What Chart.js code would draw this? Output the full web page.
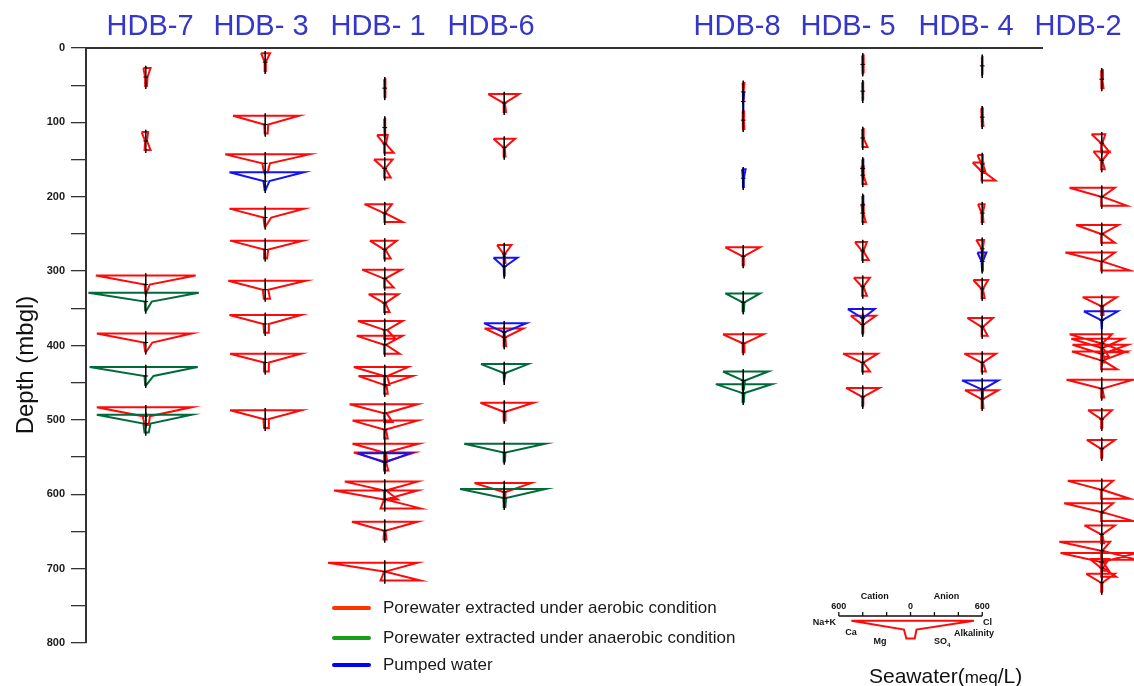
<!DOCTYPE html>
<html>
<head>
<meta charset="utf-8">
<script src="https://cdn.jsdelivr.net/npm/chart.js@4.4.0/dist/chart.umd.min.js"></script>
<style>
  html, body { margin: 0; padding: 0; background: #fff; }
  #wrap { width: 1134px; height: 686px; }
</style>
</head>
<body>
<div id="wrap"><canvas id="stiff" width="1134" height="686"></canvas></div>
<script>
// Stiff diagrams down each borehole, values in meq/L
// row: [depth (m, top row), type, Na+K, Ca, Mg, Cl, Alkalinity, SO4]
// type: A = porewater aerobic, N = porewater anaerobic, P = pumped water
var boreholes = ['HDB-7', 'HDB- 3', 'HDB- 1', 'HDB-6', 'HDB-8', 'HDB- 5', 'HDB- 4', 'HDB-2'];
var boreholeCentre = [500, 1500, 2500, 3500, 5500, 6500, 7500, 8500];

var hdb7 = [
  [27, 'A', 20, 5, 5, 40, 15, 10],
  [113, 'A', 35, 5, 10, 20, 10, 40],
  [306, 'A', 418, 8, 5, 418, 33, 5],
  [329, 'N', 480, 8, 5, 444, 50, 5],
  [384, 'A', 410, 15, 5, 385, 55, 5],
  [429, 'N', 470, 10, 5, 435, 65, 5],
  [483, 'A', 410, 25, 10, 385, 35, 25],
  [493, 'N', 410, 20, 10, 385, 40, 25]
];
var hdb3 = [
  [7, 'A', 35, 5, 5, 40, 5, 5],
  [91, 'A', 270, 8, 5, 285, 25, 20],
  [143, 'A', 335, 25, 10, 370, 40, 20],
  [167, 'P', 300, 15, 5, 325, 35, 2],
  [216, 'A', 300, 15, 5, 325, 50, 2],
  [259, 'A', 295, 10, 10, 315, 25, 15],
  [313, 'A', 310, 20, 12, 340, 25, 40],
  [359, 'A', 300, 15, 10, 300, 30, 30],
  [411, 'A', 295, 10, 10, 300, 30, 25],
  [487, 'A', 295, 15, 10, 305, 30, 25]
];
var hdb1 = [
  [42, 'A', 5, 2, 2, 8, 3, 5],
  [95, 'A', 5, 2, 2, 5, 3, 5],
  [117, 'A', 65, 5, 5, 25, 10, 75],
  [150, 'A', 90, 5, 5, 65, 5, 50],
  [210, 'A', 170, 5, 2, 60, 3, 150],
  [259, 'A', 125, 5, 5, 100, 5, 50],
  [298, 'A', 190, 5, 5, 140, 5, 75],
  [331, 'A', 135, 5, 5, 115, 5, 40],
  [367, 'A', 225, 5, 5, 150, 20, 90],
  [387, 'A', 235, 5, 5, 150, 10, 125],
  [429, 'A', 260, 5, 5, 195, 20, 40],
  [441, 'A', 220, 5, 5, 235, 15, 25],
  [479, 'A', 295, 5, 5, 275, 15, 65],
  [501, 'A', 270, 5, 5, 275, 10, 25],
  [532, 'A', 270, 5, 5, 285, 10, 20],
  [544, 'A', 260, 5, 5, 250, 10, 30],
  [545, 'P', 225, 5, 2, 210, 5, 2],
  [583, 'A', 335, 5, 5, 275, 10, 110],
  [595, 'A', 425, 5, 35, 275, 5, 300],
  [637, 'A', 275, 5, 10, 275, 5, 15],
  [692, 'A', 475, 5, 35, 275, 5, 300]
];
var hdb6 = [
  [62, 'A', 135, 5, 5, 125, 5, 15],
  [122, 'A', 90, 5, 5, 90, 5, 10],
  [265, 'A', 60, 5, 5, 60, 5, 10],
  [282, 'P', 90, 5, 2, 110, 5, 2],
  [370, 'P', 170, 5, 2, 185, 5, 2],
  [377, 'A', 165, 5, 5, 160, 10, 15],
  [425, 'N', 195, 5, 2, 200, 10, 2],
  [477, 'A', 200, 5, 5, 245, 10, 10],
  [532, 'N', 335, 5, 5, 345, 10, 5],
  [585, 'A', 250, 5, 5, 225, 10, 10],
  [593, 'N', 370, 5, 5, 345, 15, 10]
];
var hdb8 = [
  [47, 'A', 5, 2, 2, 10, 5, 5],
  [60, 'P', 3, 2, 2, 8, 3, 3],
  [85, 'A', 5, 3, 3, 8, 5, 10],
  [163, 'P', 10, 3, 2, 20, 5, 5],
  [268, 'A', 150, 5, 5, 140, 5, 5],
  [330, 'N', 150, 5, 5, 140, 10, 5],
  [385, 'A', 170, 5, 5, 170, 10, 10],
  [435, 'N', 170, 5, 5, 210, 15, 5],
  [452, 'N', 230, 5, 5, 240, 10, 5]
];
var hdb5 = [
  [10, 'A', 5, 3, 2, 10, 5, 10],
  [46, 'A', 5, 3, 2, 5, 3, 5],
  [109, 'A', 5, 3, 3, 8, 5, 40],
  [150, 'P', 3, 2, 2, 5, 3, 2],
  [159, 'A', 10, 3, 3, 8, 5, 30],
  [199, 'P', 3, 2, 2, 5, 3, 2],
  [210, 'A', 10, 3, 3, 8, 5, 25],
  [261, 'A', 65, 5, 5, 35, 5, 50],
  [309, 'A', 75, 5, 5, 60, 5, 35],
  [351, 'P', 125, 5, 2, 100, 5, 2],
  [360, 'A', 100, 5, 5, 110, 5, 10],
  [411, 'A', 165, 5, 5, 125, 5, 60],
  [457, 'A', 140, 5, 5, 140, 5, 10]
];
var hdb4 = [
  [12, 'A', 3, 2, 2, 3, 2, 3],
  [81, 'A', 8, 3, 3, 5, 5, 10],
  [144, 'A', 40, 5, 5, 5, 5, 30],
  [154, 'A', 80, 5, 5, 10, 10, 110],
  [210, 'A', 35, 5, 5, 20, 5, 10],
  [258, 'A', 50, 5, 5, 15, 5, 15],
  [275, 'P', 40, 5, 2, 35, 5, 2],
  [312, 'A', 75, 5, 5, 50, 5, 20],
  [363, 'A', 125, 5, 5, 90, 5, 45],
  [411, 'A', 150, 5, 5, 115, 5, 30],
  [447, 'P', 170, 5, 2, 135, 5, 2],
  [460, 'A', 145, 5, 5, 135, 5, 10]
];
var hdb2 = [
  [30, 'A', 5, 3, 3, 10, 5, 15],
  [116, 'A', 85, 5, 5, 30, 5, 65],
  [139, 'A', 70, 5, 5, 65, 5, 25],
  [188, 'A', 270, 5, 5, 110, 5, 210],
  [238, 'A', 215, 5, 5, 140, 5, 110],
  [275, 'A', 305, 5, 5, 110, 5, 235],
  [335, 'A', 160, 5, 5, 125, 10, 15],
  [354, 'P', 150, 5, 2, 135, 5, 2],
  [385, 'A', 270, 5, 5, 85, 5, 200],
  [391, 'A', 255, 5, 5, 180, 10, 60],
  [399, 'A', 245, 5, 5, 220, 10, 30],
  [408, 'A', 250, 5, 5, 210, 10, 130],
  [446, 'A', 295, 5, 5, 260, 5, 20],
  [487, 'A', 115, 5, 5, 85, 5, 10],
  [527, 'A', 125, 5, 5, 110, 5, 10],
  [582, 'A', 285, 5, 5, 95, 5, 235],
  [612, 'A', 315, 5, 5, 95, 5, 265],
  [642, 'A', 145, 5, 5, 110, 5, 20],
  [664, 'A', 355, 5, 5, 70, 5, 290],
  [679, 'A', 345, 5, 5, 295, 10, 60],
  [687, 'A', 100, 5, 5, 60, 10, 120],
  [707, 'A', 130, 5, 5, 110, 5, 10]
];
var samples = [hdb7, hdb3, hdb1, hdb6, hdb8, hdb5, hdb4, hdb2];

// reference diagram in the key
var seawater = [770, 'S', 495, 55, 35, 530, 50, 35];
var seawaterCentre = 6900;

var depthTicks = [0, 100, 200, 300, 400, 500, 600, 700, 800];
var ROW = 12;   // depth spacing between ion rows

var lineColour = { A: '#ff0a0a', N: '#006b3a', P: '#1414f0', S: '#ff0a0a' };

function stiff(cx, r) {
  var d = r[0];
  return [
    { x: cx - r[2], y: d },
    { x: cx - r[3], y: d + ROW },
    { x: cx - r[4], y: d + 2 * ROW },
    { x: cx + r[7], y: d + 2 * ROW },
    { x: cx + r[6], y: d + ROW },
    { x: cx + r[5], y: d },
    { x: cx - r[2], y: d },
    { x: cx, y: null }
  ];
}

var byType = { A: [], N: [], P: [] };
var spines = [];
samples.forEach(function (rows, i) {
  var cx = boreholeCentre[i];
  rows.forEach(function (r) {
    byType[r[1]] = byType[r[1]].concat(stiff(cx, r));
    spines.push({ x: cx, y: r[0] - 3 }, { x: cx, y: r[0] + 2 * ROW + 4 }, { x: cx, y: null });
    spines.push({ x: cx - 20, y: r[0] + ROW }, { x: cx + 20, y: r[0] + ROW }, { x: cx, y: null });
  });
});

function lineSet(data, colour, width, order) {
  return {
    data: data, showLine: true, borderColor: colour, borderWidth: width,
    pointRadius: 0, spanGaps: false, tension: 0, order: order
  };
}

var FONT = '"Liberation Sans", Arial, sans-serif';

var decor = {
  id: 'decor',
  afterDraw: function (chart) {
    var ctx = chart.ctx, area = chart.chartArea, xs = chart.scales.x;
    ctx.save();

    // top frame line
    ctx.strokeStyle = '#333';
    ctx.lineWidth = 2;
    ctx.beginPath();
    ctx.moveTo(area.left, area.top);
    ctx.lineTo(1043, area.top);
    ctx.stroke();

    // borehole names
    var nameX = [150, 261, 378, 491, 737, 848, 966, 1078];
    ctx.fillStyle = '#3636c8';
    ctx.font = '29px ' + FONT;
    ctx.textAlign = 'center';
    ctx.textBaseline = 'middle';
    boreholes.forEach(function (b, i) { ctx.fillText(b, nameX[i], 27); });

    // depth axis title
    ctx.save();
    ctx.translate(26, 365);
    ctx.rotate(-Math.PI / 2);
    ctx.fillStyle = '#111';
    ctx.font = '24px ' + FONT;
    ctx.fillText('Depth (mbgl)', 0, 0);
    ctx.restore();

    // series key
    var keys = [
      ['#ff3300', 'Porewater extracted under aerobic condition', 608],
      ['#1a9e1a', 'Porewater extracted under anaerobic condition', 638],
      ['#0000ff', 'Pumped water', 665]
    ];
    ctx.lineCap = 'round';
    ctx.textAlign = 'left';
    ctx.font = '17px ' + FONT;
    keys.forEach(function (k) {
      ctx.strokeStyle = k[0];
      ctx.lineWidth = 4;
      ctx.beginPath();
      ctx.moveTo(334, k[2]);
      ctx.lineTo(369, k[2]);
      ctx.stroke();
      ctx.fillStyle = '#1a1a1a';
      ctx.fillText(k[1], 383, k[2]);
    });
    ctx.lineCap = 'butt';

    // seawater key scale
    var c = seawaterCentre, ay = 616;
    ctx.strokeStyle = '#111';
    ctx.lineWidth = 1.3;
    ctx.beginPath();
    ctx.moveTo(xs.getPixelForValue(c - 600), ay);
    ctx.lineTo(xs.getPixelForValue(c + 600), ay);
    for (var v = -600; v <= 600; v += 200) {
      ctx.moveTo(xs.getPixelForValue(c + v), ay);
      ctx.lineTo(xs.getPixelForValue(c + v), ay - 4);
    }
    ctx.stroke();

    ctx.fillStyle = '#111';
    ctx.font = 'bold 9px ' + FONT;
    ctx.textAlign = 'center';
    ctx.fillText('Cation', xs.getPixelForValue(c - 300), 597);
    ctx.fillText('Anion', xs.getPixelForValue(c + 300), 597);
    ctx.fillText('600', xs.getPixelForValue(c - 600), 607);
    ctx.fillText('0', xs.getPixelForValue(c), 607);
    ctx.fillText('600', xs.getPixelForValue(c + 600), 607);
    ctx.fillText('Ca', 851, 633);
    ctx.fillText('Mg', 880, 642);
    ctx.textAlign = 'right';
    ctx.fillText('Na+K', 836, 623);
    ctx.textAlign = 'left';
    ctx.fillText('Cl', 983, 623);
    ctx.fillText('Alkalinity', 954, 634);
    ctx.fillText('SO', 934, 642);
    ctx.font = 'bold 6px ' + FONT;
    ctx.fillText('4', 934 + 13, 645);

    // key caption
    ctx.fillStyle = '#111';
    ctx.textBaseline = 'middle';
    ctx.font = '21px ' + FONT;
    var tx = 869;
    ctx.fillText('Seawater(', tx, 677);
    tx += ctx.measureText('Seawater(').width;
    ctx.font = '17px ' + FONT;
    ctx.fillText('meq', tx, 678);
    tx += ctx.measureText('meq').width;
    ctx.font = '21px ' + FONT;
    ctx.fillText('/L)', tx, 677);

    ctx.restore();
  }
};

new Chart(document.getElementById('stiff'), {
  type: 'scatter',
  data: {
    datasets: [
      lineSet(spines, '#000', 1, 0),
      lineSet(byType.P, lineColour.P, 2, 1),
      lineSet(byType.N, lineColour.N, 2, 2),
      lineSet(byType.A, lineColour.A, 2, 3),
      lineSet(stiff(seawaterCentre, seawater), lineColour.S, 2, 4)
    ]
  },
  options: {
    responsive: false,
    animation: false,
    devicePixelRatio: 1,
    layout: { padding: { left: 0, top: 48, right: 0, bottom: 43 } },
    plugins: { legend: { display: false }, tooltip: { enabled: false } },
    scales: {
      x: { type: 'linear', min: 0, max: 8770, display: false },
      y: {
        type: 'linear', reverse: true, min: 0, max: 800,
        afterFit: function (s) { s.width = 86; },
        afterBuildTicks: function (s) {
          s.ticks = [];
          for (var v = 0; v <= 800; v += 50) s.ticks.push({ value: v });
        },
        ticks: {
          autoSkip: false, padding: 6, color: '#1a1a1a',
          font: { family: FONT, size: 11, weight: 'bold' },
          callback: function (v) { return depthTicks.indexOf(v) >= 0 ? String(v) : ''; }
        },
        grid: { drawOnChartArea: false, tickLength: 15, color: '#333', lineWidth: 1.3 },
        border: { color: '#333', width: 2 }
      }
    }
  },
  plugins: [decor]
});
</script>
</body>
</html>
